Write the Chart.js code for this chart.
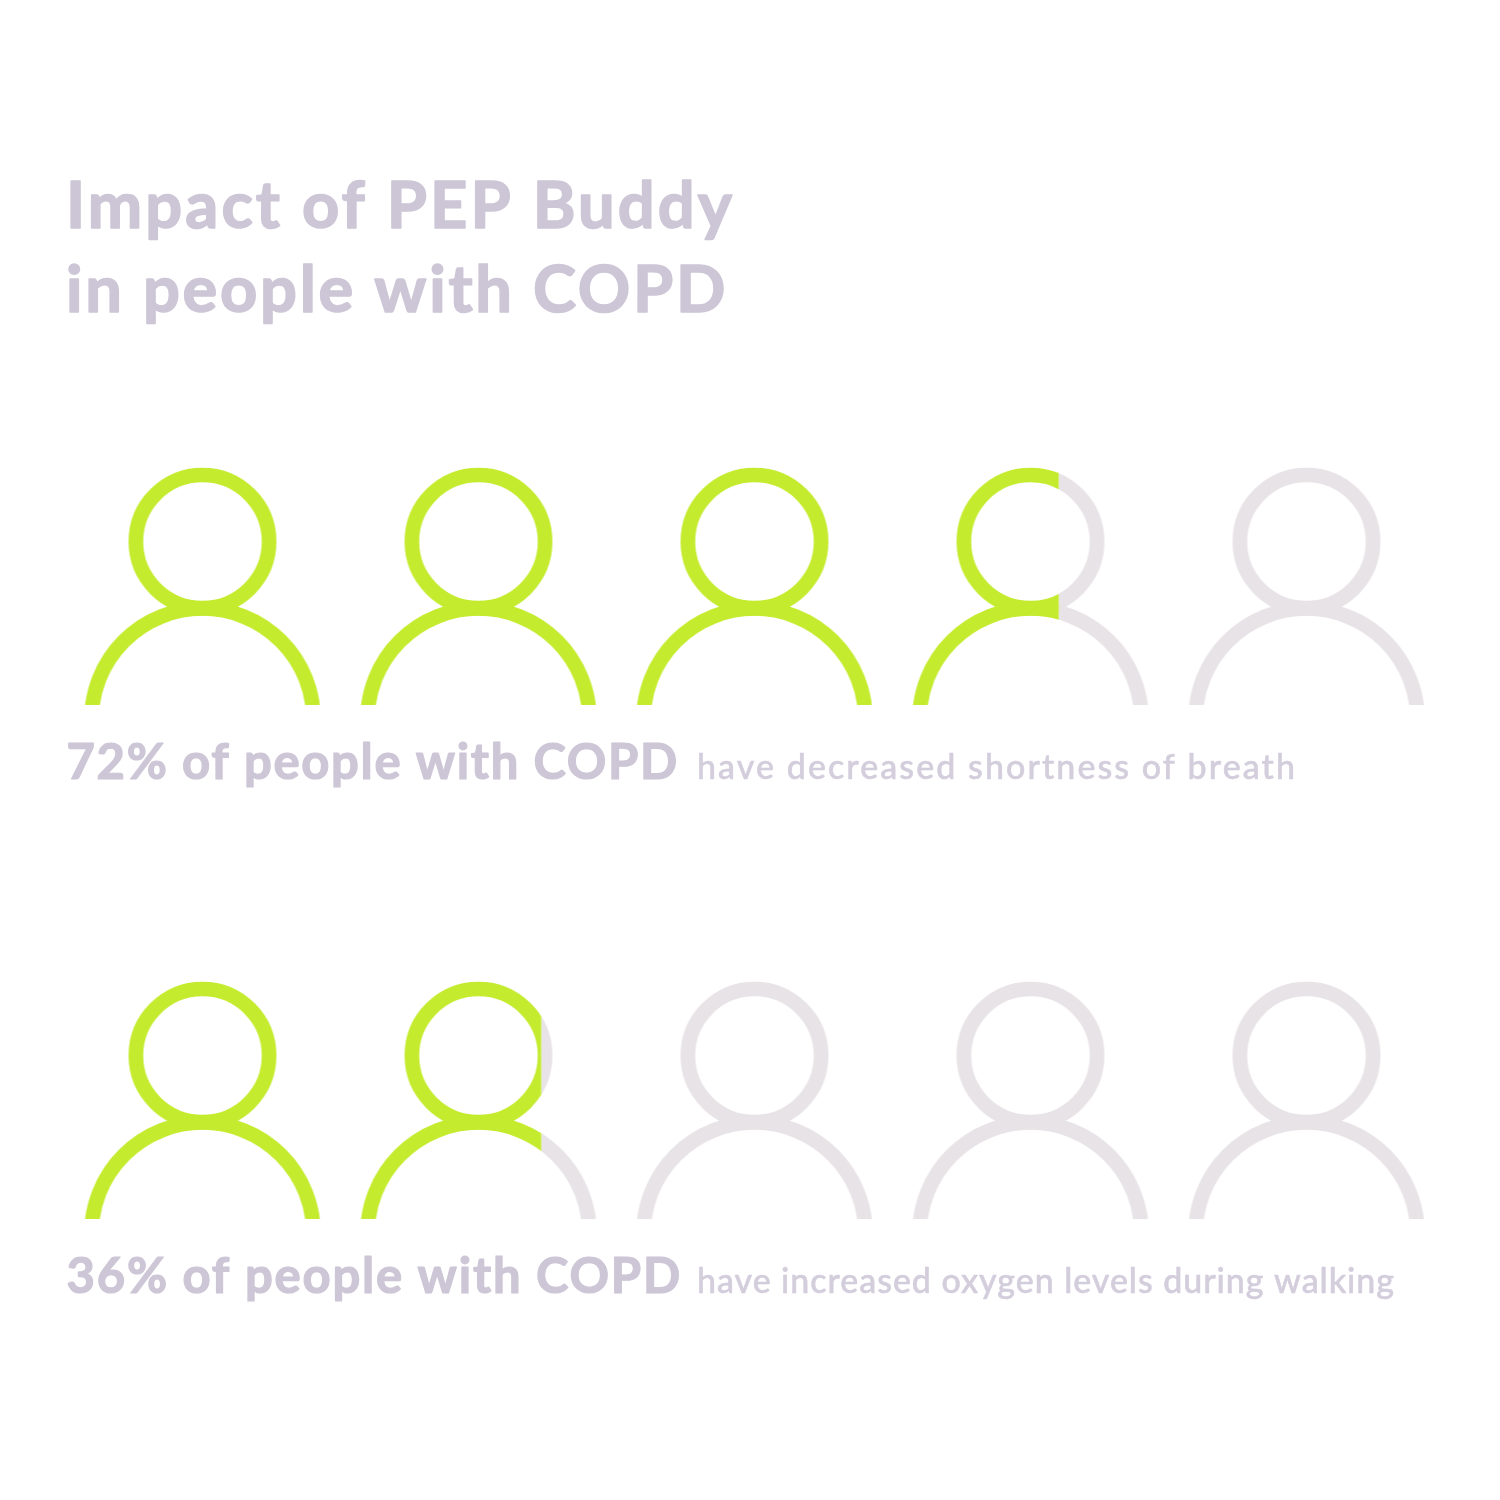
<!DOCTYPE html>
<html>
<head>
<meta charset="utf-8">
<style>html,body{margin:0;padding:0;background:#fff}#wrap{width:1500px;height:1500px}</style>
<script src="https://cdn.jsdelivr.net/npm/chart.js@4"></script>
</head>
<body>
<div id="wrap"><canvas id="c" width="1500" height="1500"></canvas></div>
<script>
const people = [0, 1, 2, 3, 4];
const rowShortness = [1, 1, 1, 0.62, 0];
const rowOxygen = [1, 0.767, 0, 0, 0];
const titleLines = ['Impact of PEP Buddy', 'in people with COPD'];
const boldCaptions = ['72% of people with COPD', '36% of people with COPD'];
const lightCaptions = ['have decreased shortness of breath', 'have increased oxygen levels during walking'];

const GREEN = '#C4EB2D', GREY = '#E8E3E6', INK = '#CDC6D6', INK_LIGHT = '#D3CDDC';
const FONT = 'Lato';

function personPath(ctx) {
  const cx = 120;
  ctx.lineWidth = 14.7;
  ctx.beginPath();
  ctx.arc(cx, 75.6, 66.6, 0, Math.PI * 2);
  ctx.stroke();
  ctx.save();
  ctx.beginPath();
  ctx.rect(0, 0, 240, 239);
  ctx.clip();
  ctx.beginPath();
  ctx.arc(cx, 253.5, 111, 0, Math.PI * 2);
  ctx.stroke();
  ctx.restore();
}
function personIcon(fraction) {
  const cv = document.createElement('canvas');
  cv.width = 240; cv.height = 240;
  const ctx = cv.getContext('2d');
  ctx.strokeStyle = GREY;
  personPath(ctx);
  if (fraction > 0) {
    const left = 2.5, w = 235;
    ctx.save();
    ctx.beginPath();
    ctx.rect(0, 0, left + w * fraction, 240);
    ctx.clip();
    ctx.clearRect(0, 0, 240, 240);
    ctx.strokeStyle = GREEN;
    personPath(ctx);
    ctx.restore();
  }
  return cv;
}

function fitText(ctx, text, x, y, width, font, color, weightStroke) {
  ctx.font = font;
  ctx.fillStyle = color;
  ctx.strokeStyle = color;
  ctx.lineJoin = 'round';
  ctx.lineWidth = weightStroke;
  ctx.textBaseline = 'alphabetic';
  ctx.textAlign = 'left';
  ctx.letterSpacing = '0px';
  const w = ctx.measureText(text).width;
  ctx.letterSpacing = ((width - w) / (text.length)).toFixed(3) + 'px';
  ctx.fillText(text, x, y);
  ctx.strokeText(text, x, y);
  ctx.letterSpacing = '0px';
}

const textPlugin = {
  id: 'texts',
  afterDraw(chart) {
    const ctx = chart.ctx;
    ctx.save();
    fitText(ctx, titleLines[0], 66, 228, 669, `700 65px ${FONT}`, INK, 1.6);
    fitText(ctx, titleLines[1], 66, 312, 662, `700 65px ${FONT}`, INK, 1.6);
    fitText(ctx, boldCaptions[0], 66.5, 779, 612.5, `700 49px ${FONT}`, INK, 1.2);
    fitText(ctx, boldCaptions[1], 66.5, 1293, 615.5, `700 49px ${FONT}`, INK, 1.2);
    fitText(ctx, lightCaptions[0], 697, 779, 600, `500 34px ${FONT}`, INK_LIGHT, 0.5);
    fitText(ctx, lightCaptions[1], 697, 1293, 698, `500 34px ${FONT}`, INK_LIGHT, 0.5);
    ctx.restore();
  }
};

function rowData(y) { return people.map(p => ({ x: p, y })); }

new Chart(document.getElementById('c'), {
  type: 'scatter',
  data: {
    datasets: [
      { label: 'Decreased shortness of breath', data: rowData(1), pointStyle: rowShortness.map(personIcon), clip: false },
      { label: 'Increased oxygen levels during walking', data: rowData(0), pointStyle: rowOxygen.map(personIcon), clip: false }
    ]
  },
  options: {
    responsive: false,
    animation: false,
    layout: { padding: { left: 202.5, right: 193.5, top: 586, bottom: 400 } },
    plugins: { legend: { display: false }, title: { display: false }, tooltip: { enabled: false } },
    scales: {
      x: { type: 'linear', min: 0, max: 4, display: false },
      y: { type: 'linear', min: 0, max: 1, display: false }
    }
  },
  plugins: [textPlugin]
});
</script>
</body>
</html>
